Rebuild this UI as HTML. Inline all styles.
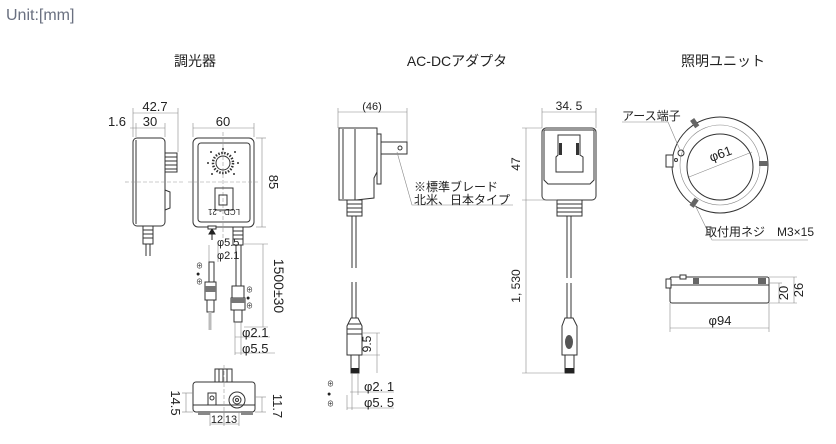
<!DOCTYPE html>
<html><head><meta charset="utf-8"><style>
html,body{margin:0;padding:0;background:#fff;width:836px;height:444px;overflow:hidden}
svg{display:block}
text{font-family:"Liberation Sans","Noto Sans CJK JP",sans-serif;fill:#222}
.l{stroke:#333;stroke-width:1;fill:none}
.t{stroke:#888;stroke-width:.6;fill:none}
.d{stroke:#999;stroke-width:.6;fill:none;stroke-dasharray:4 2}
.b{stroke:#333;stroke-width:1;fill:#fff}
</style></head><body>
<svg width="836" height="444" viewBox="0 0 836 444">
<text x="6" y="20" font-size="16" style="fill:#6a7080">Unit:[mm]</text>
<text x="195" y="66" font-size="14" text-anchor="middle">調光器</text>
<text x="457" y="66" font-size="14" text-anchor="middle">AC-DCアダプタ</text>
<text x="723" y="66" font-size="14" text-anchor="middle">照明ユニット</text>

<!-- Dimmer side -->
<line class="t" x1="133" y1="113" x2="178" y2="113"/><line class="t" x1="133" y1="108" x2="133" y2="137"/><line class="t" x1="178" y1="108" x2="178" y2="152"/>
<text x="155" y="111" font-size="13" text-anchor="middle">42.7</text>
<line class="t" x1="130" y1="128" x2="165" y2="128"/><line class="t" x1="136" y1="123" x2="136" y2="137"/><line class="t" x1="165" y1="123" x2="165" y2="137"/>
<text x="150" y="126" font-size="13" text-anchor="middle">30</text>
<text x="117" y="126" font-size="13" text-anchor="middle">1.6</text>
<rect class="b" x="133" y="138" width="32" height="88" rx="4"/>
<line class="l" x1="136" y1="140" x2="136" y2="224"/>
<rect class="b" x="165" y="153" width="12" height="19"/>
<line class="l" x1="165" y1="157" x2="177" y2="157"/><line class="l" x1="165" y1="161" x2="177" y2="161"/><line class="l" x1="165" y1="165" x2="177" y2="165"/><line class="l" x1="165" y1="169" x2="177" y2="169"/>
<path class="l" d="M165 190 L170 192 L170 208 L165 210"/>
<rect class="b" x="143" y="226" width="10" height="18"/>
<line class="l" x1="143" y1="230" x2="153" y2="230"/><line class="l" x1="143" y1="234" x2="153" y2="234"/><line class="l" x1="143" y1="238" x2="153" y2="238"/>
<line class="l" x1="146" y1="244" x2="146" y2="256"/><line class="l" x1="150" y1="244" x2="150" y2="256"/>
<line class="d" x1="125" y1="182" x2="185" y2="182"/>

<!-- Dimmer front -->
<line class="t" x1="193" y1="128" x2="254" y2="128"/><line class="t" x1="193" y1="123" x2="193" y2="137"/><line class="t" x1="254" y1="123" x2="254" y2="137"/>
<text x="223" y="126" font-size="13" text-anchor="middle">60</text>
<rect class="b" x="193" y="138" width="61" height="89" rx="5"/>
<rect class="l" x="198" y="143" width="52" height="79" rx="3"/>
<line class="d" x1="223" y1="132" x2="223" y2="240"/><line class="d" x1="188" y1="182" x2="258" y2="182"/>
<circle cx="223" cy="163" r="10" fill="none" stroke="#333" stroke-width="2.5" stroke-dasharray="1.5 1.5"/>
<circle class="l" cx="223" cy="163" r="7"/>
<g fill="#333"><circle cx="211" cy="152" r="1"/><circle cx="223" cy="149" r="1"/><circle cx="235" cy="152" r="1"/><circle cx="238" cy="163" r="1"/><circle cx="234" cy="174" r="1"/><circle cx="212" cy="174" r="1"/><circle cx="208" cy="163" r="1"/></g>
<rect class="l" x="215" y="188" width="18" height="22"/><rect class="l" x="219" y="195" width="8" height="10"/>
<text x="224" y="215" font-size="8" text-anchor="middle" transform="rotate(180 224 212)">LCD - 21</text>
<line class="t" x1="256" y1="138" x2="266" y2="138"/><line class="t" x1="256" y1="227" x2="266" y2="227"/><line class="t" x1="262" y1="138" x2="262" y2="227"/>
<text x="269" y="182" font-size="13" text-anchor="middle" transform="rotate(90 269 182)">85</text>
<rect class="b" x="233" y="227" width="10" height="18"/>
<line class="l" x1="233" y1="231" x2="243" y2="231"/><line class="l" x1="233" y1="235" x2="243" y2="235"/><line class="l" x1="233" y1="239" x2="243" y2="239"/>
<path d="M212 240 L212 233 M209 234 L212 229 L215 234 Z" stroke="#222" fill="#222"/>
<rect class="b" x="208" y="226" width="8" height="3"/>
<!-- cables -->
<line class="t" x1="209" y1="245" x2="209" y2="262"/><line class="t" x1="218" y1="245" x2="218" y2="262"/>
<text x="217" y="246" font-size="11">φ5.5</text><text x="217" y="259" font-size="11">φ2.1</text>
<rect class="l" x="209" y="262" width="5" height="20"/>
<rect class="b" x="205" y="282" width="11" height="18"/><rect x="205" y="286" width="11" height="6" fill="#777"/>
<rect class="l" x="207" y="300" width="7" height="12"/>
<line x1="210" y1="312" x2="210" y2="330" stroke="#bbb" stroke-width="3"/>
<g font-size="7" fill="#444"><text x="196" y="268">⊕</text><text x="196" y="276">●</text><text x="196" y="284">⊕</text></g>
<line class="l" x1="236" y1="245" x2="236" y2="290"/><line class="l" x1="241" y1="245" x2="241" y2="290"/>
<rect class="b" x="232" y="286" width="12" height="14"/>
<rect class="b" x="231" y="298" width="14" height="12"/><rect x="231" y="298" width="14" height="5" fill="#777"/>
<rect class="l" x="234" y="310" width="8" height="12"/>
<line class="t" x1="235" y1="322" x2="235" y2="355"/><line class="t" x1="241" y1="322" x2="241" y2="355"/>
<g font-size="7" fill="#444"><text x="246" y="292">⊕</text><text x="246" y="300">●</text><text x="246" y="308">⊕</text></g>
<line class="t" x1="244" y1="244" x2="268" y2="244"/><line class="t" x1="244" y1="327" x2="268" y2="327"/><line class="t" x1="263" y1="244" x2="263" y2="327"/>
<text x="274" y="286" font-size="14" text-anchor="middle" transform="rotate(90 274 286)">1500±30</text>
<line class="t" x1="235" y1="337" x2="270" y2="337"/><line class="t" x1="235" y1="353" x2="275" y2="353"/>
<text x="242" y="337" font-size="13">φ2.1</text><text x="242" y="353" font-size="13">φ5.5</text>

<!-- Dimmer bottom -->
<rect class="b" x="215" y="369" width="17" height="13"/>
<line class="l" x1="219" y1="369" x2="219" y2="382"/><line class="l" x1="223" y1="369" x2="223" y2="382"/><line class="l" x1="227" y1="369" x2="227" y2="382"/>
<rect class="b" x="193" y="382" width="62" height="30" rx="3"/>
<line class="l" x1="193" y1="405" x2="255" y2="405"/>
<rect x="198" y="411" width="12" height="4" fill="#888"/><rect x="241" y="411" width="12" height="4" fill="#888"/>
<rect class="l" x="208" y="393" width="8" height="12"/><circle class="l" cx="212" cy="398" r="2"/>
<circle class="l" cx="237" cy="400" r="8"/><circle class="l" cx="237" cy="400" r="4"/><circle class="l" cx="237" cy="400" r="1.5"/>
<line class="d" x1="224" y1="365" x2="224" y2="425"/>
<line class="t" x1="182" y1="393" x2="193" y2="393"/><line class="t" x1="182" y1="412" x2="193" y2="412"/><line class="t" x1="186" y1="393" x2="186" y2="412"/>
<text x="171" y="403" font-size="13" text-anchor="middle" transform="rotate(90 171 403)">14.5</text>
<line class="t" x1="255" y1="397" x2="266" y2="397"/><line class="t" x1="255" y1="412" x2="266" y2="412"/><line class="t" x1="262" y1="397" x2="262" y2="412"/>
<text x="273" y="406" font-size="13" text-anchor="middle" transform="rotate(90 273 406)">11.7</text>
<line class="t" x1="210" y1="412" x2="210" y2="426"/><line class="t" x1="224" y1="412" x2="224" y2="426"/><line class="t" x1="239" y1="412" x2="239" y2="426"/>
<line class="t" x1="210" y1="424" x2="239" y2="424"/>
<text x="217" y="423" font-size="11" text-anchor="middle">12</text><text x="231" y="423" font-size="11" text-anchor="middle">13</text>

<!-- Adapter side -->
<line class="t" x1="338" y1="112" x2="407" y2="112"/><line class="t" x1="338" y1="108" x2="338" y2="128"/><line class="t" x1="407" y1="108" x2="407" y2="142"/>
<text x="372" y="110" font-size="11" text-anchor="middle">(46)</text>
<path class="b" d="M339 128 L377 128 L377 172 L374 178 L374 198 L356 200 L339 200 Z"/>
<line class="l" x1="343" y1="129" x2="343" y2="199"/><line class="l" x1="355" y1="129" x2="355" y2="200"/>
<rect class="b" x="377" y="134" width="4" height="50"/>
<rect class="b" x="381" y="142" width="26" height="12"/><circle class="l" cx="400" cy="148" r="2"/>
<rect class="b" x="347" y="200" width="15" height="16"/>
<line class="l" x1="347" y1="204" x2="362" y2="204"/><line class="l" x1="347" y1="208" x2="362" y2="208"/><line class="l" x1="347" y1="212" x2="362" y2="212"/>
<line class="l" x1="352" y1="216" x2="352" y2="268"/><line class="l" x1="356" y1="216" x2="356" y2="268"/>
<line class="l" x1="352" y1="282" x2="352" y2="318"/><line class="l" x1="356" y1="282" x2="356" y2="318"/>
<path class="b" d="M351 318 L358 318 L362 326 L362 355 L347 355 L347 326 Z"/>
<line class="l" x1="348" y1="324" x2="361" y2="324"/><line class="l" x1="347" y1="329" x2="362" y2="329"/><line class="l" x1="347" y1="334" x2="362" y2="334"/>
<rect class="b" x="351" y="355" width="8" height="18"/><rect x="351" y="368" width="8" height="5" fill="#222"/>
<line class="t" x1="352" y1="373" x2="352" y2="410"/><line class="t" x1="358" y1="373" x2="358" y2="395"/>
<line class="t" x1="362" y1="333" x2="380" y2="333"/><line class="t" x1="362" y1="355" x2="380" y2="355"/><line class="t" x1="377" y1="333" x2="377" y2="373"/>
<text x="371" y="344" font-size="12" text-anchor="middle" transform="rotate(-90 371 344)">9.5</text>
<line class="t" x1="350" y1="392" x2="394" y2="392"/><line class="t" x1="347" y1="408" x2="394" y2="408"/><line class="t" x1="347" y1="395" x2="347" y2="410"/>
<text x="364" y="391" font-size="13">φ2. 1</text><text x="364" y="407" font-size="13">φ5. 5</text>
<g font-size="7" fill="#444"><text x="327" y="386">⊕</text><text x="327" y="396">●</text><text x="327" y="406">⊕</text></g>
<polyline class="t" points="397,152 412,205 513,205"/>
<text x="414" y="191" font-size="12">※標準ブレード</text>
<text x="414" y="204" font-size="12">北米、日本タイプ</text>

<!-- Adapter front -->
<line class="t" x1="542" y1="112" x2="596" y2="112"/><line class="t" x1="542" y1="108" x2="542" y2="128"/><line class="t" x1="596" y1="108" x2="596" y2="128"/>
<text x="569" y="110" font-size="12" text-anchor="middle">34. 5</text>
<rect class="b" x="542" y="128" width="54" height="72" rx="4"/>
<path class="l" d="M544 130 L594 130 L594 180 L590 184 L548 184 L544 180 Z"/>
<path class="l" d="M558 135 L580 135 L580 155 L583 157 L583 172 L556 172 L556 157 L558 155 Z"/>
<rect x="559" y="143" width="3" height="12" fill="#333"/><rect x="576" y="143" width="3" height="12" fill="#333"/>
<rect class="b" x="557" y="200" width="25" height="16"/>
<line class="l" x1="557" y1="204" x2="582" y2="204"/><line class="l" x1="557" y1="208" x2="582" y2="208"/><line class="l" x1="557" y1="212" x2="582" y2="212"/>
<line class="l" x1="567" y1="216" x2="567" y2="278"/><line class="l" x1="571" y1="216" x2="571" y2="278"/>
<line class="l" x1="567" y1="283" x2="567" y2="318"/><line class="l" x1="571" y1="283" x2="571" y2="318"/>
<path class="b" d="M565 318 L573 318 L577 326 L577 355 L562 355 L562 326 Z"/>
<ellipse cx="569" cy="342" rx="4" ry="7" fill="#555"/>
<rect class="b" x="565" y="355" width="9" height="18"/><rect x="565" y="368" width="9" height="5" fill="#222"/>
<line class="t" x1="522" y1="128" x2="542" y2="128"/><line class="t" x1="522" y1="200" x2="557" y2="200"/><line class="t" x1="522" y1="373" x2="565" y2="373"/>
<line class="t" x1="526" y1="128" x2="526" y2="373"/>
<text x="520" y="164" font-size="12" text-anchor="middle" transform="rotate(-90 520 164)">47</text>
<text x="520" y="286" font-size="12" text-anchor="middle" transform="rotate(-90 520 286)">1, 530</text>

<!-- Ring top -->
<circle class="l" cx="720" cy="165" r="48"/>
<circle class="t" cx="720" cy="165" r="40"/>
<circle class="b" cx="720" cy="167" r="33"/>
<rect class="b" x="666" y="155" width="7" height="12"/>
<circle class="l" cx="681" cy="153" r="3"/><circle class="l" cx="676" cy="160" r="1.5"/>
<rect x="692" y="119" width="5" height="9" fill="#666" transform="rotate(-35 694 123)"/>
<rect x="692" y="198" width="5" height="9" fill="#666" transform="rotate(35 694 202)"/>
<rect x="759" y="161" width="9" height="5" fill="#666"/>
<line class="t" x1="689" y1="177" x2="752" y2="152"/>
<text x="722" y="158" font-size="13" text-anchor="middle" transform="rotate(-20 722 158)">φ61</text>
<text x="622" y="120" font-size="12">アース端子</text>
<polyline class="t" points="622,122 668,122 680,150"/>
<polyline class="t" points="695,205 712,240 808,240"/>
<text x="705" y="236" font-size="12">取付用ネジ　M3×15</text>

<!-- Ring side -->
<rect class="b" x="670" y="277" width="99" height="26" rx="2"/>
<line class="l" x1="670" y1="285" x2="769" y2="285"/>
<rect class="b" x="666" y="279" width="5" height="9"/>
<rect class="b" x="680" y="275" width="6" height="4"/>
<rect x="693" y="278" width="6" height="6" fill="#666"/><rect x="758" y="278" width="8" height="6" fill="#666"/>
<line class="t" x1="769" y1="277" x2="797" y2="277"/><line class="t" x1="769" y1="283" x2="782" y2="283"/><line class="t" x1="769" y1="303" x2="797" y2="303"/>
<line class="t" x1="779" y1="283" x2="779" y2="303"/><line class="t" x1="794" y1="277" x2="794" y2="303"/>
<text x="788" y="293" font-size="13" text-anchor="middle" transform="rotate(-90 788 293)">20</text>
<text x="803" y="290" font-size="13" text-anchor="middle" transform="rotate(-90 803 290)">26</text>
<line class="t" x1="670" y1="303" x2="670" y2="332"/><line class="t" x1="769" y1="303" x2="769" y2="332"/><line class="t" x1="670" y1="328" x2="769" y2="328"/>
<text x="720" y="325" font-size="13" text-anchor="middle">φ94</text>
</svg>
</body></html>
